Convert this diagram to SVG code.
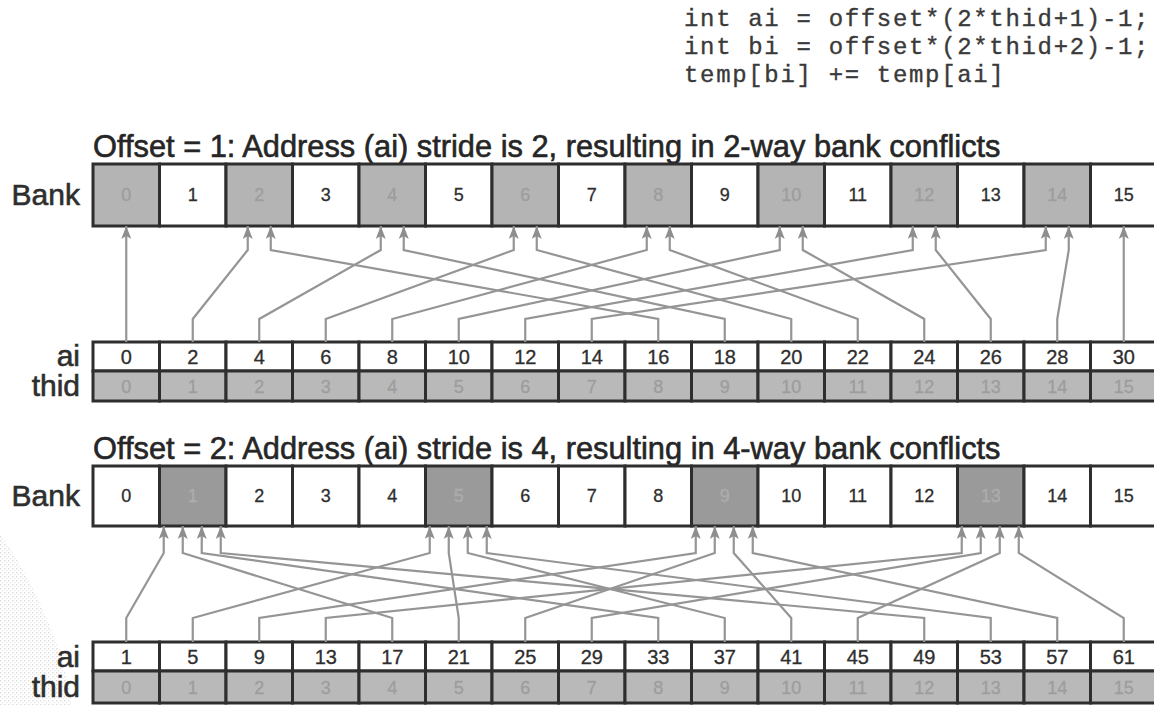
<svg xmlns="http://www.w3.org/2000/svg" width="1154" height="705" viewBox="0 0 1154 705">
  <style>
    .cell { stroke: #2e2e2e; stroke-width: 3; }
    .w { fill: #ffffff; }
    .g { fill: #b4b4b4; }
    .gd { fill: #9a9a9a; }
    .gt { fill: #b9b9b9; }
    text { font-family: "Liberation Sans", Arial, Helvetica, sans-serif; }
    .num { font-size: 18px; text-anchor: middle; fill: #2e2e2e; stroke: #2e2e2e; stroke-width: 0.3; }
    .ai .num { font-size: 20px; }
    .dim { fill: #9d9d9d; stroke: #9d9d9d; }
    .dimd { fill: #adadad; stroke: #adadad; }
    .lbl { font-size: 30px; text-anchor: end; fill: #2e2e2e; stroke: #2e2e2e; stroke-width: 0.6; }
    .title { font-size: 30.8px; fill: #262626; stroke: #262626; stroke-width: 0.6; }
    .code { font-family: "Liberation Mono", "Courier New", monospace; font-size: 24px; letter-spacing: 1.67px; fill: #3a3a3a; stroke: #3a3a3a; stroke-width: 0.35; }
    .wire { fill: none; stroke: #959595; stroke-width: 2.2; marker-end: url(#ah); }
    .haze { fill: url(#dots); opacity: 0.6; }
  </style>
  <defs>
    <marker id="ah" markerUnits="userSpaceOnUse" markerWidth="13" markerHeight="10" refX="13" refY="5" orient="auto" viewBox="0 0 13 10">
      <path d="M0,0 L13,5 L0,10 L3,5 z" fill="#8e8e8e"/>
    </marker>
    <pattern id="dots" width="4" height="4" patternUnits="userSpaceOnUse">
      <rect x="0" y="0" width="1.4" height="1.4" fill="#c4c4c4"/>
      <rect x="2" y="2" width="1.2" height="1.2" fill="#d2d2d2"/>
    </pattern>
  </defs>

  <!-- faint halftone speckle in the lower-left corner -->
  <path class="haze" d="M0 535 C20 560 40 600 55 640 C62 660 70 690 72 705 L0 705 Z"/>

  <!-- code snippet -->
  <g id="code">
    <text class="code" x="684" y="26" xml:space="preserve">int ai = offset*(2*thid+1)-1;</text>
    <text class="code" x="684" y="54" xml:space="preserve">int bi = offset*(2*thid+2)-1;</text>
    <text class="code" x="684" y="82" xml:space="preserve">temp[bi] += temp[ai]</text>
  </g>

  <!-- ===== offset 1 ===== -->
  <text id="title1" class="title" x="93" y="157">Offset = 1: Address (ai) stride is 2, resulting in 2-way bank conflicts</text>
  <text class="lbl" x="80" y="205">Bank</text>
  <text class="lbl" x="80" y="366">ai</text>
  <text class="lbl" x="80" y="396">thid</text>

  <g id="bank1">
    <g id="bank1-0"><rect class="cell g" x="93" y="164" width="66.5" height="62"/><text class="num dim" x="126.25" y="201">0</text></g>
    <g id="bank1-1"><rect class="cell w" x="159.5" y="164" width="66.5" height="62"/><text class="num" x="192.75" y="201">1</text></g>
    <g id="bank1-2"><rect class="cell g" x="226" y="164" width="66.5" height="62"/><text class="num dim" x="259.25" y="201">2</text></g>
    <g id="bank1-3"><rect class="cell w" x="292.5" y="164" width="66.5" height="62"/><text class="num" x="325.75" y="201">3</text></g>
    <g id="bank1-4"><rect class="cell g" x="359" y="164" width="66.5" height="62"/><text class="num dim" x="392.25" y="201">4</text></g>
    <g id="bank1-5"><rect class="cell w" x="425.5" y="164" width="66.5" height="62"/><text class="num" x="458.75" y="201">5</text></g>
    <g id="bank1-6"><rect class="cell g" x="492" y="164" width="66.5" height="62"/><text class="num dim" x="525.25" y="201">6</text></g>
    <g id="bank1-7"><rect class="cell w" x="558.5" y="164" width="66.5" height="62"/><text class="num" x="591.75" y="201">7</text></g>
    <g id="bank1-8"><rect class="cell g" x="625" y="164" width="66.5" height="62"/><text class="num dim" x="658.25" y="201">8</text></g>
    <g id="bank1-9"><rect class="cell w" x="691.5" y="164" width="66.5" height="62"/><text class="num" x="724.75" y="201">9</text></g>
    <g id="bank1-10"><rect class="cell g" x="758" y="164" width="66.5" height="62"/><text class="num dim" x="791.25" y="201">10</text></g>
    <g id="bank1-11"><rect class="cell w" x="824.5" y="164" width="66.5" height="62"/><text class="num" x="857.75" y="201">11</text></g>
    <g id="bank1-12"><rect class="cell g" x="891" y="164" width="66.5" height="62"/><text class="num dim" x="924.25" y="201">12</text></g>
    <g id="bank1-13"><rect class="cell w" x="957.5" y="164" width="66.5" height="62"/><text class="num" x="990.75" y="201">13</text></g>
    <g id="bank1-14"><rect class="cell g" x="1024" y="164" width="66.5" height="62"/><text class="num dim" x="1057.25" y="201">14</text></g>
    <g id="bank1-15"><rect class="cell w" x="1090.5" y="164" width="66.5" height="62"/><text class="num" x="1123.75" y="201">15</text></g>
  </g>

  <g id="ai1" class="ai">
    <g id="ai1-0"><rect class="cell w" x="93" y="342" width="66.5" height="29"/><text class="num" x="126.25" y="364">0</text></g>
    <g id="ai1-1"><rect class="cell w" x="159.5" y="342" width="66.5" height="29"/><text class="num" x="192.75" y="364">2</text></g>
    <g id="ai1-2"><rect class="cell w" x="226" y="342" width="66.5" height="29"/><text class="num" x="259.25" y="364">4</text></g>
    <g id="ai1-3"><rect class="cell w" x="292.5" y="342" width="66.5" height="29"/><text class="num" x="325.75" y="364">6</text></g>
    <g id="ai1-4"><rect class="cell w" x="359" y="342" width="66.5" height="29"/><text class="num" x="392.25" y="364">8</text></g>
    <g id="ai1-5"><rect class="cell w" x="425.5" y="342" width="66.5" height="29"/><text class="num" x="458.75" y="364">10</text></g>
    <g id="ai1-6"><rect class="cell w" x="492" y="342" width="66.5" height="29"/><text class="num" x="525.25" y="364">12</text></g>
    <g id="ai1-7"><rect class="cell w" x="558.5" y="342" width="66.5" height="29"/><text class="num" x="591.75" y="364">14</text></g>
    <g id="ai1-8"><rect class="cell w" x="625" y="342" width="66.5" height="29"/><text class="num" x="658.25" y="364">16</text></g>
    <g id="ai1-9"><rect class="cell w" x="691.5" y="342" width="66.5" height="29"/><text class="num" x="724.75" y="364">18</text></g>
    <g id="ai1-10"><rect class="cell w" x="758" y="342" width="66.5" height="29"/><text class="num" x="791.25" y="364">20</text></g>
    <g id="ai1-11"><rect class="cell w" x="824.5" y="342" width="66.5" height="29"/><text class="num" x="857.75" y="364">22</text></g>
    <g id="ai1-12"><rect class="cell w" x="891" y="342" width="66.5" height="29"/><text class="num" x="924.25" y="364">24</text></g>
    <g id="ai1-13"><rect class="cell w" x="957.5" y="342" width="66.5" height="29"/><text class="num" x="990.75" y="364">26</text></g>
    <g id="ai1-14"><rect class="cell w" x="1024" y="342" width="66.5" height="29"/><text class="num" x="1057.25" y="364">28</text></g>
    <g id="ai1-15"><rect class="cell w" x="1090.5" y="342" width="66.5" height="29"/><text class="num" x="1123.75" y="364">30</text></g>
  </g>

  <g id="thid1">
    <g id="thid1-0"><rect class="cell gt" x="93" y="371" width="66.5" height="30"/><text class="num dim" x="126.25" y="393">0</text></g>
    <g id="thid1-1"><rect class="cell gt" x="159.5" y="371" width="66.5" height="30"/><text class="num dim" x="192.75" y="393">1</text></g>
    <g id="thid1-2"><rect class="cell gt" x="226" y="371" width="66.5" height="30"/><text class="num dim" x="259.25" y="393">2</text></g>
    <g id="thid1-3"><rect class="cell gt" x="292.5" y="371" width="66.5" height="30"/><text class="num dim" x="325.75" y="393">3</text></g>
    <g id="thid1-4"><rect class="cell gt" x="359" y="371" width="66.5" height="30"/><text class="num dim" x="392.25" y="393">4</text></g>
    <g id="thid1-5"><rect class="cell gt" x="425.5" y="371" width="66.5" height="30"/><text class="num dim" x="458.75" y="393">5</text></g>
    <g id="thid1-6"><rect class="cell gt" x="492" y="371" width="66.5" height="30"/><text class="num dim" x="525.25" y="393">6</text></g>
    <g id="thid1-7"><rect class="cell gt" x="558.5" y="371" width="66.5" height="30"/><text class="num dim" x="591.75" y="393">7</text></g>
    <g id="thid1-8"><rect class="cell gt" x="625" y="371" width="66.5" height="30"/><text class="num dim" x="658.25" y="393">8</text></g>
    <g id="thid1-9"><rect class="cell gt" x="691.5" y="371" width="66.5" height="30"/><text class="num dim" x="724.75" y="393">9</text></g>
    <g id="thid1-10"><rect class="cell gt" x="758" y="371" width="66.5" height="30"/><text class="num dim" x="791.25" y="393">10</text></g>
    <g id="thid1-11"><rect class="cell gt" x="824.5" y="371" width="66.5" height="30"/><text class="num dim" x="857.75" y="393">11</text></g>
    <g id="thid1-12"><rect class="cell gt" x="891" y="371" width="66.5" height="30"/><text class="num dim" x="924.25" y="393">12</text></g>
    <g id="thid1-13"><rect class="cell gt" x="957.5" y="371" width="66.5" height="30"/><text class="num dim" x="990.75" y="393">13</text></g>
    <g id="thid1-14"><rect class="cell gt" x="1024" y="371" width="66.5" height="30"/><text class="num dim" x="1057.25" y="393">14</text></g>
    <g id="thid1-15"><rect class="cell gt" x="1090.5" y="371" width="66.5" height="30"/><text class="num dim" x="1123.75" y="393">15</text></g>
  </g>

  <!-- address -> bank connectors, offset 1 -->
  <g id="wires1">
    <path class="wire" d="M126.25 342 V226"/>
    <path class="wire" d="M192.75 342 V319 L247.75 250 V226"/>
    <path class="wire" d="M259.25 342 V319 L380.75 250 V226"/>
    <path class="wire" d="M325.75 342 V319 L513.75 250 V226"/>
    <path class="wire" d="M392.25 342 V319 L646.75 250 V226"/>
    <path class="wire" d="M458.75 342 V319 L779.75 250 V226"/>
    <path class="wire" d="M525.25 342 V319 L912.75 250 V226"/>
    <path class="wire" d="M591.75 342 V319 L1045.75 250 V226"/>
    <path class="wire" d="M658.25 342 V319 L270.75 250 V226"/>
    <path class="wire" d="M724.75 342 V319 L403.75 250 V226"/>
    <path class="wire" d="M791.25 342 V319 L536.75 250 V226"/>
    <path class="wire" d="M857.75 342 V319 L669.75 250 V226"/>
    <path class="wire" d="M924.25 342 V319 L802.75 250 V226"/>
    <path class="wire" d="M990.75 342 V319 L935.75 250 V226"/>
    <path class="wire" d="M1057.25 342 V319 L1068.75 250 V226"/>
    <path class="wire" d="M1123.75 342 V226"/>
  </g>

  <!-- ===== offset 2 ===== -->
  <text id="title2" class="title" x="93" y="459">Offset = 2: Address (ai) stride is 4, resulting in 4-way bank conflicts</text>
  <text class="lbl" x="80" y="506">Bank</text>
  <text class="lbl" x="80" y="667">ai</text>
  <text class="lbl" x="80" y="697">thid</text>

  <g id="bank2">
    <g id="bank2-0"><rect class="cell w" x="93" y="466" width="66.5" height="60"/><text class="num" x="126.25" y="502">0</text></g>
    <g id="bank2-1"><rect class="cell gd" x="159.5" y="466" width="66.5" height="60"/><text class="num dimd" x="192.75" y="502">1</text></g>
    <g id="bank2-2"><rect class="cell w" x="226" y="466" width="66.5" height="60"/><text class="num" x="259.25" y="502">2</text></g>
    <g id="bank2-3"><rect class="cell w" x="292.5" y="466" width="66.5" height="60"/><text class="num" x="325.75" y="502">3</text></g>
    <g id="bank2-4"><rect class="cell w" x="359" y="466" width="66.5" height="60"/><text class="num" x="392.25" y="502">4</text></g>
    <g id="bank2-5"><rect class="cell gd" x="425.5" y="466" width="66.5" height="60"/><text class="num dimd" x="458.75" y="502">5</text></g>
    <g id="bank2-6"><rect class="cell w" x="492" y="466" width="66.5" height="60"/><text class="num" x="525.25" y="502">6</text></g>
    <g id="bank2-7"><rect class="cell w" x="558.5" y="466" width="66.5" height="60"/><text class="num" x="591.75" y="502">7</text></g>
    <g id="bank2-8"><rect class="cell w" x="625" y="466" width="66.5" height="60"/><text class="num" x="658.25" y="502">8</text></g>
    <g id="bank2-9"><rect class="cell gd" x="691.5" y="466" width="66.5" height="60"/><text class="num dimd" x="724.75" y="502">9</text></g>
    <g id="bank2-10"><rect class="cell w" x="758" y="466" width="66.5" height="60"/><text class="num" x="791.25" y="502">10</text></g>
    <g id="bank2-11"><rect class="cell w" x="824.5" y="466" width="66.5" height="60"/><text class="num" x="857.75" y="502">11</text></g>
    <g id="bank2-12"><rect class="cell w" x="891" y="466" width="66.5" height="60"/><text class="num" x="924.25" y="502">12</text></g>
    <g id="bank2-13"><rect class="cell gd" x="957.5" y="466" width="66.5" height="60"/><text class="num dimd" x="990.75" y="502">13</text></g>
    <g id="bank2-14"><rect class="cell w" x="1024" y="466" width="66.5" height="60"/><text class="num" x="1057.25" y="502">14</text></g>
    <g id="bank2-15"><rect class="cell w" x="1090.5" y="466" width="66.5" height="60"/><text class="num" x="1123.75" y="502">15</text></g>
  </g>

  <g id="ai2" class="ai">
    <g id="ai2-0"><rect class="cell w" x="93" y="642" width="66.5" height="29"/><text class="num" x="126.25" y="664">1</text></g>
    <g id="ai2-1"><rect class="cell w" x="159.5" y="642" width="66.5" height="29"/><text class="num" x="192.75" y="664">5</text></g>
    <g id="ai2-2"><rect class="cell w" x="226" y="642" width="66.5" height="29"/><text class="num" x="259.25" y="664">9</text></g>
    <g id="ai2-3"><rect class="cell w" x="292.5" y="642" width="66.5" height="29"/><text class="num" x="325.75" y="664">13</text></g>
    <g id="ai2-4"><rect class="cell w" x="359" y="642" width="66.5" height="29"/><text class="num" x="392.25" y="664">17</text></g>
    <g id="ai2-5"><rect class="cell w" x="425.5" y="642" width="66.5" height="29"/><text class="num" x="458.75" y="664">21</text></g>
    <g id="ai2-6"><rect class="cell w" x="492" y="642" width="66.5" height="29"/><text class="num" x="525.25" y="664">25</text></g>
    <g id="ai2-7"><rect class="cell w" x="558.5" y="642" width="66.5" height="29"/><text class="num" x="591.75" y="664">29</text></g>
    <g id="ai2-8"><rect class="cell w" x="625" y="642" width="66.5" height="29"/><text class="num" x="658.25" y="664">33</text></g>
    <g id="ai2-9"><rect class="cell w" x="691.5" y="642" width="66.5" height="29"/><text class="num" x="724.75" y="664">37</text></g>
    <g id="ai2-10"><rect class="cell w" x="758" y="642" width="66.5" height="29"/><text class="num" x="791.25" y="664">41</text></g>
    <g id="ai2-11"><rect class="cell w" x="824.5" y="642" width="66.5" height="29"/><text class="num" x="857.75" y="664">45</text></g>
    <g id="ai2-12"><rect class="cell w" x="891" y="642" width="66.5" height="29"/><text class="num" x="924.25" y="664">49</text></g>
    <g id="ai2-13"><rect class="cell w" x="957.5" y="642" width="66.5" height="29"/><text class="num" x="990.75" y="664">53</text></g>
    <g id="ai2-14"><rect class="cell w" x="1024" y="642" width="66.5" height="29"/><text class="num" x="1057.25" y="664">57</text></g>
    <g id="ai2-15"><rect class="cell w" x="1090.5" y="642" width="66.5" height="29"/><text class="num" x="1123.75" y="664">61</text></g>
  </g>

  <g id="thid2">
    <g id="thid2-0"><rect class="cell gt" x="93" y="671" width="66.5" height="32"/><text class="num dim" x="126.25" y="694">0</text></g>
    <g id="thid2-1"><rect class="cell gt" x="159.5" y="671" width="66.5" height="32"/><text class="num dim" x="192.75" y="694">1</text></g>
    <g id="thid2-2"><rect class="cell gt" x="226" y="671" width="66.5" height="32"/><text class="num dim" x="259.25" y="694">2</text></g>
    <g id="thid2-3"><rect class="cell gt" x="292.5" y="671" width="66.5" height="32"/><text class="num dim" x="325.75" y="694">3</text></g>
    <g id="thid2-4"><rect class="cell gt" x="359" y="671" width="66.5" height="32"/><text class="num dim" x="392.25" y="694">4</text></g>
    <g id="thid2-5"><rect class="cell gt" x="425.5" y="671" width="66.5" height="32"/><text class="num dim" x="458.75" y="694">5</text></g>
    <g id="thid2-6"><rect class="cell gt" x="492" y="671" width="66.5" height="32"/><text class="num dim" x="525.25" y="694">6</text></g>
    <g id="thid2-7"><rect class="cell gt" x="558.5" y="671" width="66.5" height="32"/><text class="num dim" x="591.75" y="694">7</text></g>
    <g id="thid2-8"><rect class="cell gt" x="625" y="671" width="66.5" height="32"/><text class="num dim" x="658.25" y="694">8</text></g>
    <g id="thid2-9"><rect class="cell gt" x="691.5" y="671" width="66.5" height="32"/><text class="num dim" x="724.75" y="694">9</text></g>
    <g id="thid2-10"><rect class="cell gt" x="758" y="671" width="66.5" height="32"/><text class="num dim" x="791.25" y="694">10</text></g>
    <g id="thid2-11"><rect class="cell gt" x="824.5" y="671" width="66.5" height="32"/><text class="num dim" x="857.75" y="694">11</text></g>
    <g id="thid2-12"><rect class="cell gt" x="891" y="671" width="66.5" height="32"/><text class="num dim" x="924.25" y="694">12</text></g>
    <g id="thid2-13"><rect class="cell gt" x="957.5" y="671" width="66.5" height="32"/><text class="num dim" x="990.75" y="694">13</text></g>
    <g id="thid2-14"><rect class="cell gt" x="1024" y="671" width="66.5" height="32"/><text class="num dim" x="1057.25" y="694">14</text></g>
    <g id="thid2-15"><rect class="cell gt" x="1090.5" y="671" width="66.5" height="32"/><text class="num dim" x="1123.75" y="694">15</text></g>
  </g>

  <!-- address -> bank connectors, offset 2 -->
  <g id="wires2">
    <path class="wire" d="M126.25 642 V618 L163.75 553 V526"/>
    <path class="wire" d="M192.75 642 V618 L429.75 553 V526"/>
    <path class="wire" d="M259.25 642 V618 L695.75 553 V526"/>
    <path class="wire" d="M325.75 642 V618 L961.75 553 V526"/>
    <path class="wire" d="M392.25 642 V618 L182.75 553 V526"/>
    <path class="wire" d="M458.75 642 V618 L448.75 553 V526"/>
    <path class="wire" d="M525.25 642 V618 L714.75 553 V526"/>
    <path class="wire" d="M591.75 642 V618 L980.75 553 V526"/>
    <path class="wire" d="M658.25 642 V618 L201.75 553 V526"/>
    <path class="wire" d="M724.75 642 V618 L467.75 553 V526"/>
    <path class="wire" d="M791.25 642 V618 L733.75 553 V526"/>
    <path class="wire" d="M857.75 642 V618 L999.75 553 V526"/>
    <path class="wire" d="M924.25 642 V618 L220.75 553 V526"/>
    <path class="wire" d="M990.75 642 V618 L486.75 553 V526"/>
    <path class="wire" d="M1057.25 642 V618 L752.75 553 V526"/>
    <path class="wire" d="M1123.75 642 V618 L1018.75 553 V526"/>
  </g>
</svg>
